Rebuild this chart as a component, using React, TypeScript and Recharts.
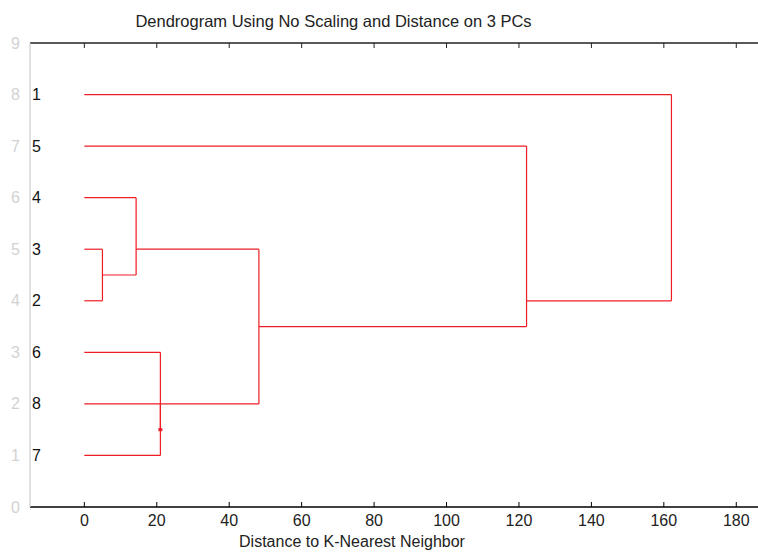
import React from 'react';
import { ScatterChart, Scatter, XAxis, YAxis } from 'recharts';

// leaves, bottom to top (y = 1..8), and where each leaf line ends
const leafNames = ['7', '8', '6', '2', '3', '4', '5', '1'];
const leafReach = [21, 48.2, 21, 5, 5, 14.3, 122.1, 162.1];

// vertical links: x, from y, to y
const linkX = [5, 14.3, 21, 21, 48.2, 122.1, 162.1];
const linkTop = [5, 6, 3, 2, 5, 7, 8];
const linkBottom = [4, 4.5, 1, 1.5, 2, 3.5, 4];

// horizontal links between merged clusters: y, from x, to x
const armY = [4.5, 5, 3.5, 4];
const armFrom = [5, 14.3, 48.2, 122.1];
const armTo = [14.3, 48.2, 122.1, 162.1];

// small marker left on the plot
const markX = [21];
const markY = [1.5];

const xTicks = [0, 20, 40, 60, 80, 100, 120, 140, 160, 180];
const yTicks = [0, 1, 2, 3, 4, 5, 6, 7, 8, 9];

const RED = '#ee1c24';
const FONT = '"Liberation Sans", Arial, sans-serif';

type Pt = { x: number; y: number };

const segments: Pt[][] = [
  ...leafNames.map((_, i) => [
    { x: 0, y: i + 1 },
    { x: leafReach[i], y: i + 1 },
  ]),
  ...linkX.map((x, i) => [
    { x, y: linkTop[i] },
    { x, y: linkBottom[i] },
  ]),
  ...armY.map((y, i) => [
    { x: armFrom[i], y },
    { x: armTo[i], y },
  ]),
];

const marks: Pt[] = markX.map((x, i) => ({ x, y: markY[i] }));

const noShape = () => <g />;

// bottom axis: inward tick + label below
const BottomTick = (props: any) => {
  const { x, y, payload } = props;
  return (
    <g>
      <line x1={x} x2={x} y1={y} y2={y - 5} stroke="#000" />
      <text x={x} y={y} dy={19} textAnchor="middle" fill="#222" fontSize={16} fontFamily={FONT}>
        {payload.value}
      </text>
    </g>
  );
};

// top axis: inward tick only
const TopTick = (props: any) => {
  const { x, y } = props;
  return <line x1={x} x2={x} y1={y} y2={y + 5} stroke="#222" />;
};

// right axis: inward light tick only
const RightTick = (props: any) => {
  const { x, y } = props;
  return <line x1={x} x2={x - 5} y1={y} y2={y} stroke="#d0d0d0" />;
};

const LeftTick = (props: any) => {
  const { x, y, payload } = props;
  const v = payload.value as number;
  const leaf = v >= 1 && v <= leafNames.length ? leafNames[v - 1] : '';
  return (
    <g>
      <text x={x} y={y} dy={5.5} textAnchor="end" fill="#d2d2d2" fontSize={16} fontFamily={FONT}>
        {v}
      </text>
      {leaf && (
        <text x={32} y={y} dy={5.5} textAnchor="start" fill="#111" fontSize={16} fontFamily={FONT}>
          {leaf}
        </text>
      )}
    </g>
  );
};

const App: React.FC = () => {
  return (
    <div
      style={{
        position: 'absolute',
        left: 0,
        top: 0,
        width: 758,
        height: 552,
        background: '#fff',
        fontFamily: FONT,
        overflow: 'hidden',
      }}
    >
      <div
        style={{
          position: 'absolute',
          left: 0,
          width: 667,
          top: 12,
          textAlign: 'center',
          fontSize: 16.5,
          color: '#222',
        }}
      >
        Dendrogram Using No Scaling and Distance on 3 PCs
      </div>
      <ScatterChart width={759} height={552} margin={{ top: 42, right: 0, bottom: 0, left: 0 }}>
        <XAxis
          xAxisId="bottom"
          dataKey="x"
          type="number"
          domain={[-15, 186]}
          allowDataOverflow
          ticks={xTicks}
          orientation="bottom"
          height={45}
          tickLine={false}
          tickSize={0}
          tickMargin={0}
          axisLine={{ stroke: '#000', strokeWidth: 1.3 }}
          tick={BottomTick}
        />
        <XAxis
          xAxisId="top"
          dataKey="x"
          type="number"
          domain={[-15, 186]}
          allowDataOverflow
          ticks={xTicks}
          orientation="top"
          height={1}
          tickLine={false}
          tickSize={0}
          tickMargin={0}
          axisLine={{ stroke: '#222', strokeWidth: 1.3 }}
          tick={TopTick}
        />
        <YAxis
          yAxisId="left"
          dataKey="y"
          type="number"
          domain={[0, 9]}
          ticks={yTicks}
          width={30}
          tickLine={false}
          tickSize={0}
          tickMargin={10}
          axisLine={{ stroke: '#cfcfcf', strokeWidth: 1.3 }}
          tick={LeftTick}
        />
        <YAxis
          yAxisId="right"
          dataKey="y"
          type="number"
          domain={[0, 9]}
          ticks={yTicks}
          orientation="right"
          width={1}
          axisLine={false}
          tickLine={false}
          tickSize={0}
          tickMargin={0}
          tick={RightTick}
        />
        {segments.map((seg, i) => (
          <Scatter
            key={`seg-${i}`}
            xAxisId="bottom"
            yAxisId="left"
            data={seg}
            line={{ stroke: RED, strokeWidth: 1.2 }}
            shape={noShape}
            isAnimationActive={false}
          />
        ))}
        <Scatter
          xAxisId="bottom"
          yAxisId="left"
          data={marks}
          fill={RED}
          shape={(p: any) => <rect x={p.cx - 2} y={p.cy - 1.5} width={4} height={3} fill={RED} />}
          isAnimationActive={false}
        />
      </ScatterChart>
      <div
        style={{
          position: 'absolute',
          left: 0,
          width: 704,
          top: 533,
          textAlign: 'center',
          fontSize: 16,
          color: '#222',
        }}
      >
        Distance to K-Nearest Neighbor
      </div>
    </div>
  );
};

export default App;
